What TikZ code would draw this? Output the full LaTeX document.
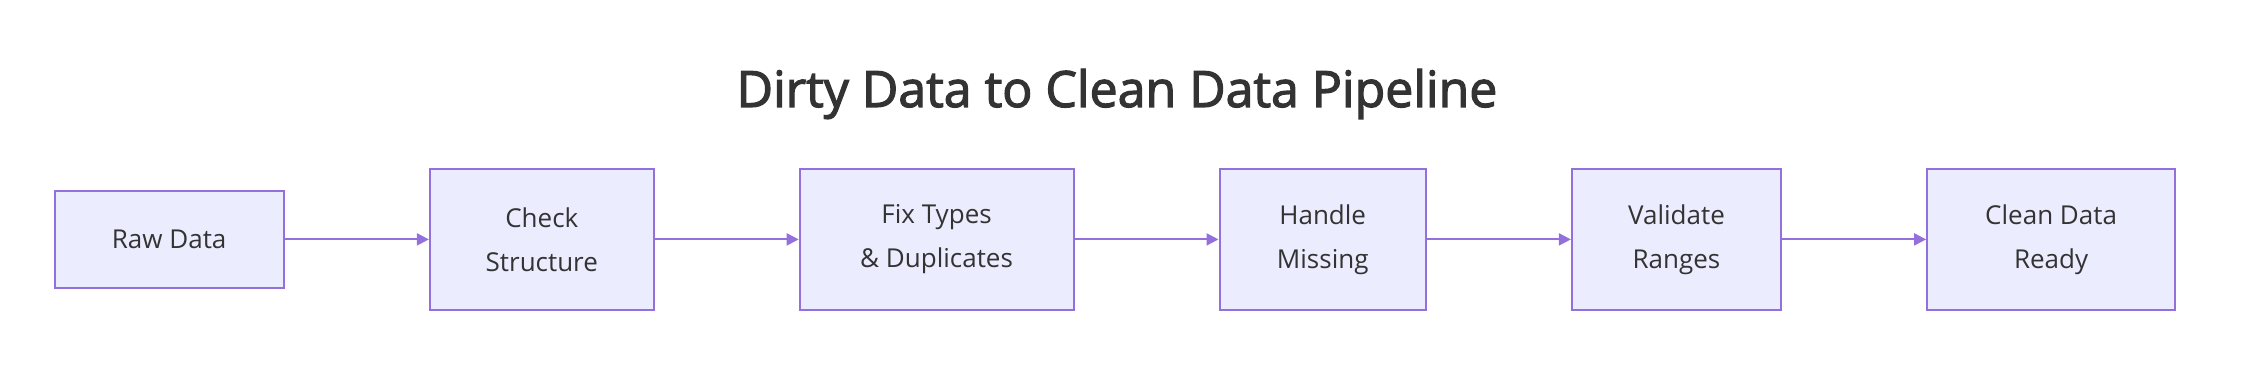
\documentclass[tikz,border=0pt]{standalone}
\usepackage{fontspec}
\setmainfont{Open Sans}
\newfontfamily\titlefont[FakeBold=2.4]{Open Sans}
\usepackage{xcolor}
\usetikzlibrary{arrows.meta, positioning}
\definecolor{boxfill}{HTML}{ECECFF}
\definecolor{boxline}{HTML}{9370DB}
\definecolor{txt}{HTML}{333333}

\begin{document}
\begin{tikzpicture}[
    x=0.5pt, y=-0.5pt,
    node distance=72pt,
    stage/.style={rectangle, draw=boxline, line width=1pt, fill=boxfill, minimum height=70.2pt, align=center, text=txt, font=\fontsize{13pt}{22pt}\selectfont, inner sep=0pt},
    arrow/.style={-{Triangle[length=6pt, width=6pt]}, draw=boxline, line width=1pt},
    heading/.style={font=\titlefont\fontsize{25pt}{30pt}\selectfont, text=txt}
]
\useasboundingbox (0,0) rectangle (2248,368);
\node[heading] (title) at (1117,94) {Dirty Data to Clean Data Pipeline};
\node[stage, minimum width=114.7pt, minimum height=48.7pt] (raw) at (169.2,239.4) {Raw Data};
\node[stage, minimum width=111.9pt, right=of raw] (check) {Check\\Structure};
\node[stage, minimum width=136.9pt, right=of check] (fix) {Fix Types\\\& Duplicates};
\node[stage, minimum width=103.2pt, right=of fix] (missing) {Handle\\Missing};
\node[stage, minimum width=104.6pt, right=of missing] (ranges) {Validate\\Ranges};
\node[stage, minimum width=124pt, right=of ranges] (clean) {Clean Data\\Ready};

\draw[arrow] (raw) -- (check);
\draw[arrow] (check) -- (fix);
\draw[arrow] (fix) -- (missing);
\draw[arrow] (missing) -- (ranges);
\draw[arrow] (ranges) -- (clean);
\end{tikzpicture}
\end{document}
